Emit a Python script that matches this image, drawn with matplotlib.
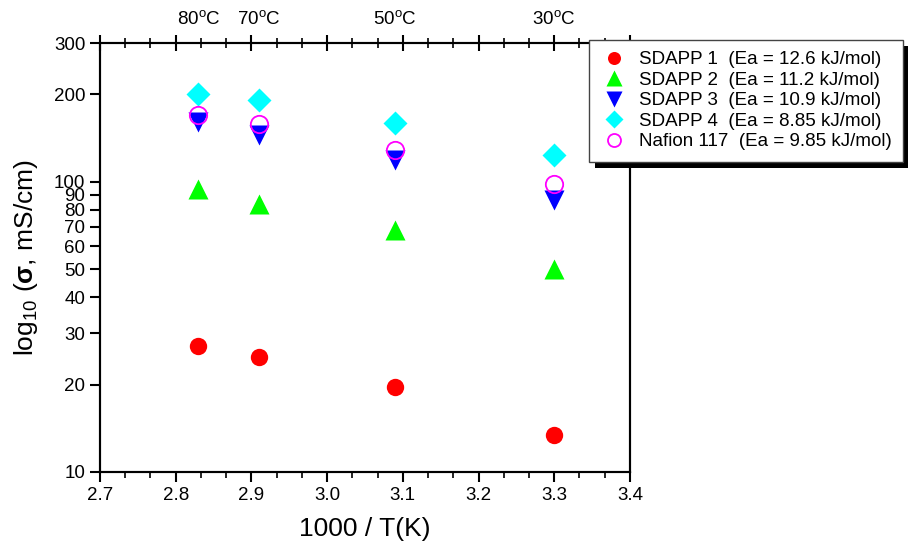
import matplotlib.pyplot as plt
from matplotlib.patches import Rectangle
from matplotlib.ticker import FixedLocator, FixedFormatter, MultipleLocator, NullFormatter
import matplotlib.transforms as mtransforms

plt.rcParams['font.family'] = ['Liberation Sans', 'DejaVu Sans']
plt.rcParams['mathtext.fontset'] = 'custom'
plt.rcParams['mathtext.rm'] = 'Liberation Sans'
plt.rcParams['mathtext.it'] = 'Liberation Sans:italic'
plt.rcParams['mathtext.bf'] = 'Liberation Sans:bold'

# Data: 1000/T vs conductivity (mS/cm)
inv_T = [2.83, 2.91, 3.09, 3.30]
sdapp1 = [27.2, 24.9, 19.6, 13.4]
sdapp2 = [94.0, 83.7, 68.0, 50.0]
sdapp3 = [160, 145, 118.5, 86.5]
sdapp4 = [201, 191, 159, 123]
nafion = [169, 158, 128, 98]

labels = ['SDAPP 1  (Ea = 12.6 kJ/mol)', 'SDAPP 2  (Ea = 11.2 kJ/mol)',
          'SDAPP 3  (Ea = 10.9 kJ/mol)', 'SDAPP 4  (Ea = 8.85 kJ/mol)',
          'Nafion 117  (Ea = 9.85 kJ/mol)']

temp_labels = ['80$^{\\mathrm{o}}$C', '70$^{\\mathrm{o}}$C', '50$^{\\mathrm{o}}$C', '30$^{\\mathrm{o}}$C']

y_ticks = [10, 20, 30, 40, 50, 60, 70, 80, 90, 100, 200, 300]

fig = plt.figure(figsize=(9.08, 5.48), dpi=100)
ax = fig.add_axes([0.1101, 0.1387, 0.5837, 0.7828])

h1, = ax.plot(inv_T, sdapp1, 'o', color='#ff0000', ms=12.5, mec='none', zorder=3)
h2, = ax.plot(inv_T, sdapp2, '^', color='#00ff00', ms=15, mec='none', zorder=3)
h3, = ax.plot(inv_T, sdapp3, 'v', color='#0000ff', ms=15, mec='none', zorder=3)
h4, = ax.plot(inv_T, sdapp4, 'D', color='#00ffff', ms=12.5, mec='none', zorder=3)
h5, = ax.plot(inv_T, nafion, 'o', mfc='none', mec='#ff00ff', mew=1.3, ms=12.5, zorder=4)

ax.set_yscale('log')
ax.set_ylim(10, 300)
ax.set_xlim(2.7, 3.4)
ax.yaxis.set_major_locator(FixedLocator(y_ticks))
ax.yaxis.set_major_formatter(FixedFormatter([str(v) for v in y_ticks]))
ax.yaxis.set_minor_locator(FixedLocator([]))
ax.xaxis.set_major_locator(MultipleLocator(0.1))
ax.xaxis.set_minor_locator(MultipleLocator(0.1 / 3))
ax.xaxis.set_major_formatter(plt.FuncFormatter(lambda v, p: f'{v:.1f}'))

ax.tick_params(axis='both', which='major', direction='out', length=7, width=1.5, labelsize=13.5)
ax.tick_params(axis='x', which='minor', direction='out', length=4, width=1.2)
for s in ax.spines.values():
    s.set_linewidth(1.5)

# top axis with crossing ticks
axt = ax.twiny()
axt.set_xlim(ax.get_xlim())
axt.xaxis.set_major_locator(MultipleLocator(0.1))
axt.xaxis.set_minor_locator(MultipleLocator(0.1 / 3))
axt.xaxis.set_major_formatter(NullFormatter())
axt.tick_params(axis='x', which='major', direction='inout', length=12, width=1.5)
axt.tick_params(axis='x', which='minor', direction='inout', length=7, width=1.2)
for s in axt.spines.values():
    s.set_linewidth(1.5)

ax.set_xlabel('1000 / T(K)', fontsize=19, labelpad=10)
ax.set_ylabel('log$_{10}$ ($\\mathbf{\\sigma}$, mS/cm)', fontsize=19, labelpad=10)

# temperature labels along top
trans = mtransforms.blended_transform_factory(ax.transData, ax.transAxes)
for x, t in zip(inv_T, temp_labels):
    ax.text(x, 1.035, t, transform=trans, ha='center', va='bottom', fontsize=13.5)

leg = fig.legend([h1, h2, h3, h4, h5], labels, loc='upper left',
                 bbox_to_anchor=(589 / 908, 1 - 40 / 548), borderaxespad=0,
                 fontsize=13.5, frameon=True, fancybox=False, edgecolor='#444444',
                 framealpha=1, markerscale=0.75, handletextpad=0.55,
                 labelspacing=0.18, borderpad=0.6, handlelength=1.5)
leg.get_frame().set_linewidth(1.0)
leg.set_zorder(10)

fig.canvas.draw()
bb = leg.get_window_extent()
inv = fig.transFigure.inverted()
x0, y0 = inv.transform((bb.x0 + 6, bb.y0 - 6))
x1, y1 = inv.transform((bb.x1 + 6, bb.y1 - 6))
fig.patches.append(Rectangle((x0, y0), x1 - x0, y1 - y0, transform=fig.transFigure,
                             facecolor='black', edgecolor='none', zorder=5))

fig.savefig('out.png', dpi=100)
